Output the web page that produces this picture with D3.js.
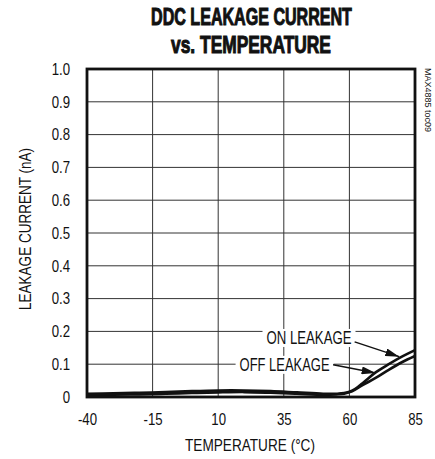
<!DOCTYPE html>
<html>
<head>
<meta charset="utf-8">
<script src="https://cdn.jsdelivr.net/npm/d3@7"></script>
<style>
  body { margin: 0; background: #fff; }
  text { font-family: "Liberation Sans", Arial, sans-serif; fill: #111; }
</style>
</head>
<body>
<svg id="chart"></svg>
<script>
const width = 435;
const height = 459;

// data
const temps = [-40, -30, -20, -10, 0, 10, 20, 30, 40, 50, 55, 58, 61, 65, 70, 75, 80, 85];
const onLeak = [0.010, 0.011, 0.013, 0.015, 0.018, 0.020, 0.020, 0.018, 0.014, 0.010, 0.010, 0.012, 0.019, 0.042, 0.075, 0.100, 0.123, 0.143];
const offLeak = [0.006, 0.007, 0.008, 0.010, 0.012, 0.014, 0.015, 0.013, 0.010, 0.007, 0.008, 0.010, 0.017, 0.036, 0.058, 0.083, 0.106, 0.125];
const xTicks = [-40, -15, 10, 35, 60, 85];
const yTicks = [0, 0.1, 0.2, 0.3, 0.4, 0.5, 0.6, 0.7, 0.8, 0.9, 1.0];

const margin = { top: 69, right: 20, bottom: 62, left: 87 };
const squeeze = 0.8; // condensed look for tick labels

const svg = d3.select('#chart')
    .attr('width', width)
    .attr('height', height);

const x = d3.scaleLinear().domain([-40, 85]).range([margin.left, width - margin.right]);
const y = d3.scaleLinear().domain([0, 1]).range([height - margin.bottom, margin.top]);

// squeeze a text horizontally so it spans w pixels, centred on (cx, cy)
const fitText = (sel, cx, cy, w, rot = 0) => {
    sel.attr('x', 0).attr('y', 0).attr('text-anchor', 'middle');
    const s = w / sel.node().getComputedTextLength();
    sel.attr('transform', `translate(${cx},${cy}) rotate(${rot}) scale(${s},1)`);
};

// arrowhead
svg.append('defs').append('marker')
    .attr('id', 'arrow')
    .attr('viewBox', '0 0 14 8')
    .attr('refX', 14).attr('refY', 4)
    .attr('markerWidth', 14).attr('markerHeight', 8)
    .attr('markerUnits', 'userSpaceOnUse')
    .attr('orient', 'auto')
    .append('path')
    .attr('d', 'M0,0 L14,4 L0,8 Z')
    .attr('fill', '#111');

// grid
svg.append('g').selectAll('line')
    .data(xTicks.slice(1, -1))
    .enter().append('line')
    .attr('x1', d => x(d)).attr('x2', d => x(d))
    .attr('y1', y(1)).attr('y2', y(0))
    .attr('stroke', '#333').attr('stroke-width', 1);

svg.append('g').selectAll('line')
    .data(yTicks.slice(1, -1))
    .enter().append('line')
    .attr('x1', x(-40)).attr('x2', x(85))
    .attr('y1', d => y(d)).attr('y2', d => y(d))
    .attr('stroke', '#333').attr('stroke-width', 1);

// tick labels
const xAxis = svg.append('g')
    .attr('transform', `translate(0,${y(0)})`)
    .call(d3.axisBottom(x).tickValues(xTicks).tickSize(0).tickPadding(16).tickFormat(d => String(d)));
xAxis.select('.domain').remove();
xAxis.attr('font-family', null).attr('font-size', null);
xAxis.selectAll('text')
    .attr('font-size', 16.5)
    .attr('transform', `scale(${squeeze},1)`);

const yAxis = svg.append('g')
    .attr('transform', `translate(${x(-40)},0)`)
    .call(d3.axisLeft(y).tickValues(yTicks).tickSize(0).tickPadding(17 / squeeze)
        .tickFormat(d => d === 0 ? '0' : d3.format('.1f')(d)));
yAxis.select('.domain').remove();
yAxis.attr('font-family', null).attr('font-size', null);
yAxis.selectAll('text')
    .attr('font-size', 16.5)
    .attr('transform', `scale(${squeeze},1)`);

// annotation labels (white boxes hide grid behind them)
const notes = [
    { text: 'ON LEAKAGE', t: 44.6, v: 0.180, len: 85, from: [62, 0.168], to: [79, 0.123] },
    { text: 'OFF LEAKAGE', t: 35.3, v: 0.098, len: 90, from: [53.8, 0.098], to: [70, 0.073] }
];

const note = svg.append('g').selectAll('g')
    .data(notes)
    .enter().append('g');

note.append('rect')
    .attr('x', d => x(d.t) - d.len / 2 - 4)
    .attr('y', d => y(d.v) - 9)
    .attr('width', d => d.len + 8)
    .attr('height', 18)
    .attr('fill', '#fff');

note.append('text')
    .attr('dy', '0.36em')
    .attr('font-size', 18)
    .text(d => d.text)
    .each(function (d) {
        fitText(d3.select(this), x(d.t), y(d.v), d.len);
    });

note.append('line')
    .attr('x1', d => x(d.from[0])).attr('y1', d => y(d.from[1]))
    .attr('x2', d => x(d.to[0])).attr('y2', d => y(d.to[1]))
    .attr('stroke', '#111').attr('stroke-width', 1.5)
    .attr('marker-end', 'url(#arrow)');

// curves
const line = d3.line()
    .x((d, i) => x(temps[i]))
    .y(d => y(d))
    .curve(d3.curveCatmullRom.alpha(0.5));

svg.append('g').selectAll('path')
    .data([onLeak, offLeak])
    .enter().append('path')
    .attr('d', line)
    .attr('fill', 'none')
    .attr('stroke', '#111')
    .attr('stroke-width', 2.6);

// frame
svg.append('rect')
    .attr('x', x(-40)).attr('y', y(1))
    .attr('width', x(85) - x(-40)).attr('height', y(0) - y(1))
    .attr('fill', 'none')
    .attr('stroke', '#111')
    .attr('stroke-width', 2.8);

// titles
const t1 = svg.append('text')
    .attr('font-size', 23)
    .attr('font-weight', 'bold')
    .attr('stroke', '#111').attr('stroke-width', 1)
    .text('DDC LEAKAGE CURRENT');
fitText(t1, 251.5, 25, 201);

const t2 = svg.append('text')
    .attr('font-size', 23)
    .attr('font-weight', 'bold')
    .attr('stroke', '#111').attr('stroke-width', 1)
    .text('vs. TEMPERATURE');
fitText(t2, 251, 53, 160);

const xTitle = svg.append('text')
    .attr('font-size', 17)
    .text('TEMPERATURE (°C)');
fitText(xTitle, 250, 451, 130);

const yTitle = svg.append('text')
    .attr('font-size', 17)
    .text('LEAKAGE CURRENT (nA)');
fitText(yTitle, 31, 229, 162, -90);

const tag = svg.append('text')
    .attr('font-size', 9)
    .text('MAX4885 toc09');
fitText(tag, 425, 100, 64, 90);
</script>
</body>
</html>
